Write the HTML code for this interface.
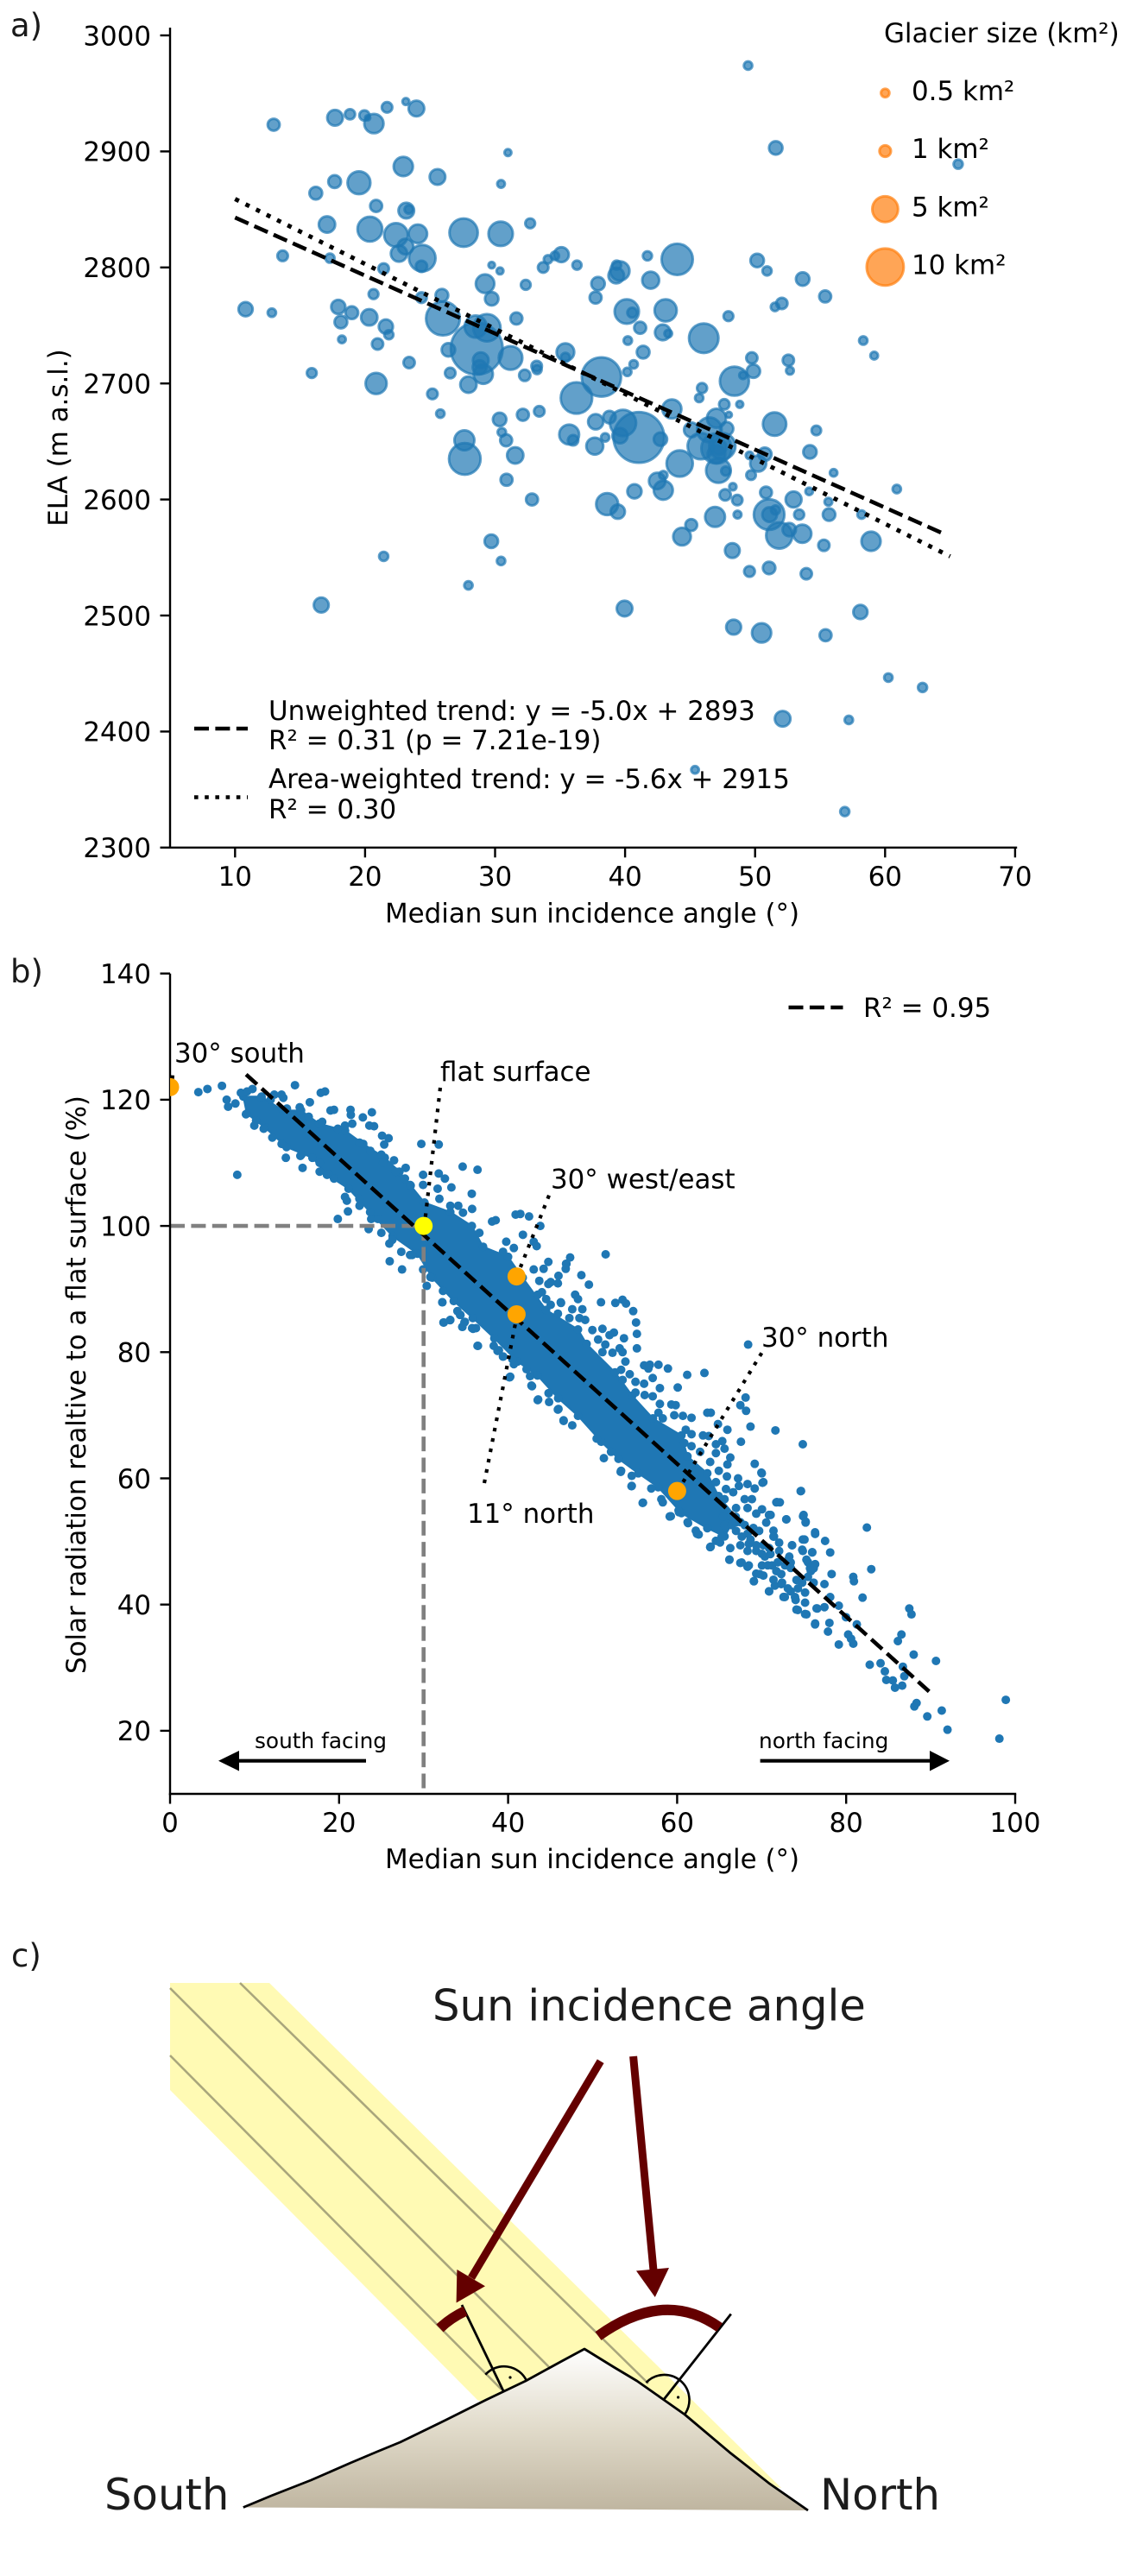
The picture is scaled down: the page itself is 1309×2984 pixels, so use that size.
<!DOCTYPE html>
<html lang="en">
<head>
<meta charset="utf-8">
<title>Glacier ELA and sun incidence angle</title>
<style>
html,body{margin:0;padding:0;background:#fff}
svg{display:block}
text{font-family:"DejaVu Sans","Liberation Sans",sans-serif;fill:#000}
.t30{font-size:30.9px}
.t24{font-size:24.8px}
.t36{font-size:37px;fill:#1a1a1a}
.t49{font-size:49.7px;fill:#1c1c1c}
</style>
</head>
<body>
<svg id="figure" xmlns="http://www.w3.org/2000/svg" width="1309" height="2984" viewBox="0 0 1309 2984">
<defs>
<clipPath id="clip-b"><rect x="197" y="1100" width="1000" height="978"/></clipPath>
<linearGradient id="mountain-gradient" x1="0" y1="0" x2="0" y2="1">
<stop offset="0" stop-color="#ffffff"/><stop offset="0.5" stop-color="#e0dac9"/><stop offset="1" stop-color="#bfb5a0"/>
</linearGradient>
</defs>

<text class="t36" x="12" y="42">a)</text>
<text class="t36" x="12" y="1138">b)</text>
<text class="t36" x="13" y="2278">c)</text>

<!-- Panel a -->
<g id="a-bubbles"></g>
<g id="a-trends"></g>
<g id="a-axes"></g>
<text class="t30" transform="translate(78,507) rotate(-90)" text-anchor="middle">ELA (m a.s.l.)</text>
<text class="t30" x="686" y="1068.5" text-anchor="middle">Median sun incidence angle (°)</text>

<g>
<text class="t30" x="1024" y="49">Glacier size (km²)</text>
<g id="a-size-legend"></g>
<text class="t30" x="1056" y="116">0.5 km²</text>
<text class="t30" x="1056" y="183">1 km²</text>
<text class="t30" x="1056" y="250.5">5 km²</text>
<text class="t30" x="1056" y="317.5">10 km²</text>
</g>

<g>
<line x1="225" y1="844" x2="287" y2="844" stroke="#000" stroke-width="4.6" stroke-dasharray="17 7.4"/>
<line x1="225" y1="923.5" x2="287" y2="923.5" stroke="#000" stroke-width="4.6" stroke-dasharray="4.6 7.6"/>
<text class="t30" x="311" y="834">Unweighted trend: y = -5.0x + 2893</text>
<text class="t30" x="311" y="868">R² = 0.31 (p = 7.21e-19)</text>
<text class="t30" x="311" y="913">Area-weighted trend: y = -5.6x + 2915</text>
<text class="t30" x="311" y="948">R² = 0.30</text>
</g>

<!-- Panel b -->
<g id="b-points" clip-path="url(#clip-b)"></g>
<g id="b-guides"></g>
<g id="b-axes"></g>
<text class="t30" transform="translate(99,1604) rotate(-90)" text-anchor="middle">Solar radiation realtive to a flat surface (%)</text>
<text class="t30" x="686" y="2164" text-anchor="middle">Median sun incidence angle (°)</text>

<line x1="913.5" y1="1167" x2="976.5" y2="1167" stroke="#000" stroke-width="4.6" stroke-dasharray="17 7.4"/>
<text class="t30" x="1000" y="1178">R² = 0.95</text>

<g stroke="#000" stroke-width="4.2" stroke-dasharray="4.2 8" fill="none">
<line x1="199" y1="1262" x2="200" y2="1244"/>
<line x1="510" y1="1260" x2="491.6" y2="1420"/>
<line x1="636" y1="1384.7" x2="598.5" y2="1479"/>
<line x1="561" y1="1718" x2="599" y2="1523"/>
<line x1="882.3" y1="1567.3" x2="785" y2="1727"/>
</g>
<g id="b-highlights" clip-path="url(#clip-b)"></g>

<text class="t30" x="202" y="1230.5">30° south</text>
<text class="t30" x="510" y="1252">flat surface</text>
<text class="t30" x="638" y="1376.5">30° west/east</text>
<text class="t30" x="882" y="1560">30° north</text>
<text class="t30" x="541" y="1764">11° north</text>

<g>
<text class="t24" x="295" y="2025">south facing</text>
<line x1="424" y1="2039.7" x2="275" y2="2039.7" stroke="#000" stroke-width="4.2"/>
<polygon points="253,2039.7 277,2028 277,2051.5" fill="#000"/>
</g>
<g>
<text class="t24" x="879" y="2025">north facing</text>
<line x1="880.6" y1="2039.7" x2="1079" y2="2039.7" stroke="#000" stroke-width="4.2"/>
<polygon points="1100,2039.7 1077,2028 1077,2051.5" fill="#000"/>
</g>

<!-- Panel c -->
<g>
<polygon points="197,2297 312,2297 905,2882 700,2850 553,2780 197,2421" fill="#fffab4"/>
<g stroke="#a9a67c" stroke-width="2.6" fill="none">
<line x1="278" y1="2297" x2="751" y2="2761"/>
<line x1="197" y1="2303" x2="636" y2="2742"/>
<line x1="197" y1="2381" x2="581" y2="2768"/>
</g>
<polygon points="281.8,2904.5 314.3,2891 360.2,2873 406,2853 436.8,2840 463.6,2829 517,2803 563,2780 609,2758 651,2735 677,2721 711,2742 737.8,2758 768.4,2779.5 793.3,2797 845,2840.6 890.9,2876.6 936,2908" fill="url(#mountain-gradient)"/>
<polyline points="281.8,2904.5 314.3,2891 360.2,2873 406,2853 436.8,2840 463.6,2829 517,2803 563,2780 609,2758 651,2735 677,2721 711,2742 737.8,2758 768.4,2779.5 793.3,2797 845,2840.6 890.9,2876.6 936,2908" fill="none" stroke="#000" stroke-width="2.8" stroke-linejoin="round"/>
<line x1="535" y1="2670" x2="583" y2="2769.5" stroke="#000" stroke-width="2.8"/>
<line x1="846.8" y1="2680.5" x2="769" y2="2779.5" stroke="#000" stroke-width="2.8"/>
<path d="M562.3 2750.7 A29 29 0 0 1 609.8 2757.4" fill="none" stroke="#000" stroke-width="2.6"/>
<path d="M748.5 2760 A29 29 0 0 1 793 2797" fill="none" stroke="#000" stroke-width="2.6"/>
<circle cx="591" cy="2754" r="1.6" fill="#000"/>
<circle cx="785.6" cy="2777" r="1.6" fill="#000"/>
<path d="M509.5 2697 Q522 2685 539 2677" fill="none" stroke="#640000" stroke-width="12"/>
<path d="M693 2706 Q769.8 2651 833.4 2696" fill="none" stroke="#640000" stroke-width="12"/>
<line x1="695.7" y1="2387.7" x2="546" y2="2638.6" stroke="#640000" stroke-width="9"/>
<polygon points="529.4,2629 562,2648.3 528.6,2667.5" fill="#640000"/>
<line x1="733.6" y1="2382" x2="757" y2="2630" stroke="#640000" stroke-width="9"/>
<polygon points="737,2630.5 775,2627 758.8,2661" fill="#640000"/>
<text class="t49" x="501" y="2340.5">Sun incidence angle</text>
<text class="t49" x="121" y="2907">South</text>
<text class="t49" x="950" y="2907">North</text>
</g>
</svg>

<script>
// ---------- Panel a data ----------
const aXTicks = [10, 20, 30, 40, 50, 60, 70];
const aYTicks = [2300, 2400, 2500, 2600, 2700, 2800, 2900, 3000];
const legendSizes = [0.5, 1, 5, 10];
const unweightedSlope = -5.0;
const unweightedIntercept = 2893;
const weightedSlope = -5.6;
const weightedIntercept = 2915;
const unweightedRange = [10, 64.7];
const weightedRange = [10, 65];

const glacierAngle = [
12.97,17.69,18.84,19.95,20.2,20.68,21.69,23.14,23.95,30.99,
22.94,25.57,30.46,17.66,19.53,16.21,20.85,23.17,23.36,17.07,
20.37,22.38,24.06,27.58,30.43,32.7,13.66,17.3,23.11,22.61,
24.4,24.34,29.74,30.38,21.43,29.23,32.36,20.65,29.74,24.34,
25.91,17.94,18.98,20.32,10.81,12.83,18.14,21.6,21.83,25.99,
18.22,20.96,28.51,29.37,31.64,33.7,34.07,34.6,35.1,28.59,
26.41,31.19,28.9,28.81,29.09,33.2,33.23,26.55,32.28,15.9,
20.85,23.39,27.95,25.18,25.79,30.35,32.14,33.4,30.52,30.85,
27.64,27.67,31.55,30.88,32.84,29.71,21.43,30.46,27.95,16.63,
49.46,51.59,65.62,36.3,44.01,41.72,39.35,39.6,39.32,41.97,
37.92,37.73,50.16,50.92,53.66,55.39,40.13,40.55,43.12,52.06,
51.53,41.16,42.9,43.32,47.95,46.05,40.21,41.39,58.32,59.16,40.66,
35.41,35.41,38.18,36.26,40.17,37.74,38.8,39.84,39.61,41.06,
42.72,35.7,36,37.67,38.47,43.6,44.2,45.1,45.82,46.48,
47.03,47.81,47.63,47.98,45.92,45.7,48.41,49.07,49.87,49.75,
52.56,52.68,48.82,51.5,54.71,54.22,56.04,54.16,47.03,47.48,
47.03,47.23,47.18,47.74,50.75,50.24,49.57,49.69,42.47,42.94,
42.94,40.72,38.62,39.44,47.7,48.29,48.63,46.92,48.65,50.84,
51.08,51.12,51.57,52.96,53.39,51.86,52.63,53.63,55.64,55.69,
58.19,55.29,58.92,45.09,44.38,48.25,49.57,51.08,53.94,39.96,
58.1,48.35,50.5,55.42,60.25,62.88,52.12,57.21,45.38,56.9,60.9
];
const glacierEla = [
2923,2929,2932,2931,2929,2924,2938,2943,2937,2899,
2887,2878,2872,2874,2873,2864,2853,2849,2850,2837,
2833,2828,2829,2830,2829,2838,2810,2808,2818,2812,
2808,2801,2802,2797,2799,2786,2785,2777,2773,2774,
2776,2766,2761,2757,2764,2761,2753,2749,2742,2756,
2738,2734,2749,2748,2756,2800,2807,2810,2811,2730,
2729,2722,2720,2714,2708,2715,2712,2709,2707,2709,
2700,2718,2699,2691,2674,2669,2673,2676,2658,2651,
2651,2635,2638,2617,2600,2564,2551,2547,2526,2509,
2974,2903,2889,2802,2807,2810,2802,2797,2793,2789,
2786,2774,2806,2797,2790,2775,2762,2761,2763,2769,
2766,2748,2744,2743,2758,2739,2737,2727,2737,2724,2716.5,
2727,2722.5,2705.6,2687.5,2710,2667,2671,2666,2655,2653.5,
2652,2656,2651,2646,2653.5,2678,2631,2660,2646,2660,
2670,2661,2682,2673,2696,2687.5,2702,2707,2710.6,2722,
2720,2711,2682,2665,2659.5,2641,2623,2607,2644,2646,
2639,2645,2625,2624.5,2639,2631,2638,2621,2616,2621,
2608,2607,2596,2589.5,2604,2611,2599.5,2585,2587,2606,
2587,2587,2591,2600,2587,2569,2574,2570.5,2598,2587,
2587,2560.5,2564,2578,2568,2556,2538,2541,2536,2506,
2503,2490,2485,2483,2446.5,2438,2411,2410,2367,2331,2609
];
const glacierArea = [
1.09,1.88,.77,.77,.1,2.83,.83,.29,1.88,.29,
2.83,1.88,.39,1.24,3.96,1.24,1.09,1.88,.49,2.05,
4.59,4.2,2.63,5.98,4.46,.71,.83,.6,1.88,2.05,
5.26,.96,.25,.29,.83,2.63,.71,.71,1.39,.83,
1.24,1.54,1.24,2.05,1.54,.49,1.24,1.54,.6,8.39,
.39,.96,3.72,5.55,1.09,.83,.49,.49,1.71,19.2,
1.39,4.2,1.88,1.46,2.83,.83,.6,.83,.96,.71,
3.37,.96,2.05,.83,.49,1.39,1.09,.83,.49,1.09,
3.04,7.37,2.05,1.09,1.09,1.39,.6,.49,.49,1.71,
.49,1.39,.6,.6,7.2,.6,.6,2.83,1.88,2.2,
1.39,1.09,1.39,.6,1.39,1.09,4.46,.71,3.72,.96,
.49,1.09,1.88,.39,.71,6.45,.49,1.24,.49,.39,.49,
2.39,.59,11.2,7.3,.48,1.79,1.19,5.17,1.79,18.3,
1.37,3.02,.81,2.21,.48,2.77,5.17,1.67,5.17,4.6,
2.77,1.37,.81,.2,.75,.48,6.27,.37,1.37,.96,
.96,.41,.3,4.12,.67,1.37,.37,.37,6.78,5.17,
2.39,1.67,4.6,.59,1.37,1.99,.37,.67,2.08,.48,
2.77,1.55,3.66,1.55,.96,.34,.81,3.02,.41,1.06,
6.93,1.67,.59,1.95,.75,5.17,1.37,2.53,.41,1.19,
.48,.96,2.82,1.06,2.39,1.67,.87,1.19,.96,1.87,
1.54,1.71,2.83,1.09,.49,.6,1.88,.49,.39,.6,.49
];

// ---------- Panel b data ----------
const bXTicks = [0, 20, 40, 60, 80, 100];
const bYTicks = [20, 40, 60, 80, 100, 120, 140];
const fitAngle = [9, 90];
const fitValue = [124, 26];
const flatAngle = 30;
const flatValue = 100;
const slopeAngle = [0, 41, 41, 60];
const slopeValue = [122, 92, 86, 58];

const coreUpperAngle = [8.67,10.82,13.37,15.5,17.65,20.71,22.86,25.41,27.14,28.47,30.1,33.16,35.71,37.04,40,41.73,44.49,48.27,49.29,52.65,54.69,57.14,60.51,61.22,63.57,64.9,66.94];
const coreUpperValue = [120.5,120.5,118.3,118.3,116.2,115.1,113,110.8,108.6,106.4,103.7,102.2,100,96.7,95.1,91.8,86.7,83.6,81.3,76.8,73.1,69.5,66.8,63.5,60.8,57.2,53.9];
const coreLowerAngle = [9.08,11.22,13.78,16.84,18.57,21.12,23.67,26.33,29.29,31.02,33.57,35.82,38.37,41.12,43.47,45.92,48.27,51.02,53.06,55.41,57.76,60.51,63.57,65.61];
const coreLowerValue = [117.8,115.6,112.5,110.8,108.1,105.9,102.2,98.4,95.6,91.8,88.1,85.4,82.2,78.5,76.3,72.7,69.9,65.8,63.1,60.8,58.6,54.5,52.1,50.8];

const glacierSamples = [
[3.35,121.2],[4.42,121.7],[6.14,122.2],[6.7,120],[6.87,118.9],[7.73,119.4],[7.95,108.1],[8.38,121.1],[9.11,121.3],[9.75,121.7],
[8.98,117.7],[10.18,116.7],[11.08,115.4],[12.33,120.8],[13.19,120.8],[13.4,120.3],[14.78,122.3],[16.54,119.6],[17.83,121.1],[18.34,121.3],
[18.99,118.3],[19.4,118.4],[21.35,118.4],[21.39,117.6],[22.81,117.2],[23.88,118],[23.58,115.9],[24.14,115.8],[20.7,115.9],[21.56,116.2],
[25.09,114.3],[25.86,113.9],[25.34,112.9],[29.73,113],[31.79,112.9],[25,111.3],[26.5,110.4],[27.88,109.2],[27.79,107.5],[34.62,109.4],
[36.38,108.9],[29.94,108.1],[31.79,108.3],[32.52,107.5],[33.29,106.1],[29.94,106.5],[31.66,105.9],[35.7,105.1],[31.87,104.3],[33.16,103.2],
[34.1,103.2],[34.66,102.1],[35.74,102.7],[38.1,100.7],[38.53,100.9],[40.89,101.8],[41.45,101.9],[42.48,101.5],[43.81,100],[41.75,98.6],
[43.03,97.5],[43.38,96.8],[36.6,98.9],[39.78,97.5],[40.68,96.5],[39.4,95.9],[44.76,94.3],[44.2,93.2],[43.03,93.1],[46.9,94],
[45.96,92.1],[44.76,90.8],[43.69,91.3],[46.26,87.8],[13.7,110.8],[15.68,109.2],[15.42,111.1],[17.7,108.6],[18.77,108.2],[20.7,104.6],
[20.92,104],[21.05,102.3],[19.85,101.1],[22.42,103.2],[23.5,99.5],[23.8,101.1],[25,98.9],[25.95,97.2],[25.99,94.4],[27.45,93.1],
[27.36,95.9],[28.65,95.4],[29.94,93.1],[30.37,90.5],[32.22,87.9],[32.39,84.7],[33.16,85.1],[34.36,85.9],[34.88,84.8],[34.58,84],
[35.74,83.8],[36.38,81],[38.75,80.2],[39.39,79.3],[40.25,76.1],[40.68,78.1],[42.18,77.3],[42.83,74.6],[43.56,72.5],[44.85,72.1],
[45.96,71],[46.56,69.2],[10.82,120.3],[11.9,120],[13.83,118.6],[15.34,118.8],[16.41,117.3],[18,116.5],[19.85,115.4],[22.42,113.2],
[23.7,111.9],[25.2,110],[26.7,108.6],[28.4,106.5],[9.97,115.9],[12.1,114],[13.2,113],[15.55,111.3],[17.7,110],[19.4,107.5],
[22.4,104.3],[24.6,101.1],[26.3,97.8],[28.4,95.4],[30.8,91.9],[32.3,89.7],[34,86.5],[36.2,83.8],[38.3,81],[40.5,78.9],
[42.6,76.2],[44.8,73.5],[32.21,87.9],[32.35,84.7],[33.13,85.06],[34.32,85.9],[34.83,84.7],[34.59,84],[35.85,83.7],[36.43,81],
[38.91,80.3],[39.42,79.3],[40.17,76],[42.76,74.7],[43.5,72.4],[44.8,73.5],[45.89,70.9],[46.57,69.1],[47.59,68.4],[50.48,66.3],
[51.33,63.2],[52.18,64.2],[53.37,61.2],[54.63,58.8],[54.63,60.4],[56.94,58.4],[55.92,56.1],[58.13,56.7],[58.3,56.2],[59.25,54],
[60.17,54.9],[61.29,52.9],[62.21,51.7],[62.55,51.1],[63.91,49.1],[64.59,50.1],[66.19,47.1],[67.48,46.6],[68.33,46],[69.08,43.7],
[69.36,44.9],[70.2,44.6],[70.89,42.1],[71.57,43],[72.59,41.2],[74.12,39.2],[75.14,38.5],[76.33,37],[76.5,39.4],[75.14,40.3],
[73.44,42.1],[45.04,91.1],[45.89,90.9],[49.56,90.7],[43.5,89.1],[44,89.5],[44.5,88.4],[45.04,87.5],[46.23,87.9],[47.93,89.1],
[48.27,88.4],[48.78,86.8],[47.59,86.8],[47.25,85.4],[45.89,86.1],[48.44,85.4],[49.12,85.1],[50.99,87.9],[52.69,87.8],[53.54,88.3],
[53.95,87.7],[54.8,86.5],[55.14,84.7],[55.24,82.9],[55.24,80.6],[53.71,82.2],[51.16,83.7],[49.97,83.5],[52.52,83.1],[52,82.7],
[50.65,82],[51.5,81.2],[53.2,80.6],[52.35,79.9],[53.54,80],[53.88,78.5],[51.16,80],[53.37,77.2],[54.39,76.5],[53.54,75.6],
[56.09,77.9],[56.77,78],[56.6,77.4],[57.79,78],[58.91,77.4],[61.19,76.4],[63.23,76.7],[57.11,75.9],[56.09,75],[55.07,75.3],
[57.96,74.3],[60.07,74.4],[55.07,73.6],[56.16,73.2],[57.11,73],[57.96,71.8],[59.32,71.7],[59.83,71.6],[57.79,70.4],[58.3,69.5],
[59.66,70],[60.68,69.9],[61.7,69.6],[63.57,70.4],[63.98,70.4],[64.83,68.6],[65.95,67.7],[61.02,67.7],[61.7,67],[63.06,66.8],
[63.74,66.7],[67.48,71.6],[68.1,72.8],[68.16,70.7],[68.4,81.2],[68.68,68.2],[71.63,67.6],[67.55,65.8],[74.87,65.4],[64.59,65.4],
[65.34,65.9],[65.61,64.7],[64.59,64],[66.29,63.3],[65.95,62.2],[64.93,61.2],[63.91,62.6],[60.85,65.6],[61.7,65.1],[62.72,64.2],
[69.18,62.3],[69.97,60.9],[70.1,59.3],[65.89,60.3],[67.21,60],[67.31,58.8],[68.33,59.1],[69.18,58.4],[64.59,59.4],[65.78,58.3],
[66.63,57.8],[65.61,56.7],[67.99,56.7],[68.85,56.7],[68.33,55.3],[66.97,55.3],[70.04,55.1],[69.36,54.4],[71.06,54.2],[70.54,53],
[71.74,56.2],[72.15,56.2],[74.66,58],[72.93,53.5],[74.9,54],[75.2,53],[76.33,51.2],[75.07,50.3],[73.61,49.4],[74.8,48.7],
[75.99,48.3],[75.48,46.7],[76.33,46.4],[75.82,45.3],[71.4,51.7],[72.07,49.8],[71.23,46.2],[71.91,46.7],[70.38,47.6],[69.36,48.5],
[70.04,46.2],[75.14,41.9],[73.27,47.6],[73.44,45.8],[74.12,43.9],[51.54,95.5],[47.34,95],[46.86,94],[46.82,93.2],[48.67,92.2],
[98.89,24.9],[98.13,18.75],[90.63,31.07],[87.99,32.07],[91.31,23.2],[89.6,22.27],[91.99,20.17],[88.33,24.4],[88.07,23.86],[87.47,39.37],
[87.73,38.45],[86.54,35.26],[86.12,34.21],[82.79,30.47],[84.07,30.7],[84.58,29.42],[84.75,28.06],[85.52,27.97],[85.78,26.83],[86.63,27.15],
[86.88,28.65],[86.71,30.15],[82.45,52.2],[82.97,45.61],[80.84,44.38],[80.92,43.7],[81.94,41.1],[78.11,48.26],[77.51,50.08],[76.32,51.45],
[74.96,54.2],[75.21,53.14],[72.91,53.5],[74.62,57.97],[71.81,56.24],[70.87,54.2],[70.02,60.8],[70.2,59.4],[78.28,44.84],[76.15,43.47],
[77.43,43.24],[78.11,41.19],[79.13,39.82],[77.43,39.59],[76.58,39.37],[75.3,38.45],[74.28,39.14],[76.32,36.86],[77.85,35.72],[78.02,37.09],
[79.13,33.67],[80.84,33.8],[80.24,35.26],[80.58,34.58],[79.98,38],[81.26,36.86],[75.72,45.75],[74.87,50.31],[75.98,48.26],[73.59,49.4],
[74.87,48.49],[73.17,47.12],[75.3,47.12],[69.08,43.7],[70.87,42.1],[72.32,43.24],[72.74,41.19],[74.02,40.73],[72.32,44.84],[69.76,44.84],
[68.48,46.2],[66.18,47.12],[67.63,46.66],[63.97,49.17],[65.08,49.85],[62.35,51.22],[61.24,53.05],[60.22,54.64],[59.12,53.96],[55.96,56.15],
[54.6,58.75],[53.32,61.03],[71.04,48],[70.19,49.4],[68.48,49.63],[71.46,50.77],
[66.97,51.68],[67.65,50.77],[66.29,48.95],[67.48,49.4],[68.68,50.31],[69.36,49.4],[68.33,48.49],[70.04,48.03],[70.88,48.95],[71.4,50.77],
[72.07,48.49],[70.72,46.21],[71.74,45.3],[72.76,46.21],[73.44,46.67],[71.4,43.93],[72.41,43.47],[73.1,42.56],[74.29,42.56],[73.95,41.19],
[74.8,43.47],[75.48,44.39],[76.16,45.75],[65.61,52.59],[66.46,52.59],[65.27,50.77],[66.97,53.05],[68,52.59],[69.02,52.14],[69.7,51.68],
[68.33,51.23],[65.44,53.96],[66.29,53.96],[67.48,53.05]
];

// ---------- Scales ----------
const SVGNS = 'http://www.w3.org/2000/svg';
function xA(v) { return 197 + (v - 5) * 15.06; }
function yA(v) { return 41 + (3000 - v) * 1.344; }
function xB(v) { return 197 + v * 9.79; }
function yB(v) { return 1127.7 + (140 - v) * 7.31; }
function bubbleRadius(area) { return Math.sqrt(15 + 51 * area) - 1.5; }
function make(tag, attrs) {
  const el = document.createElementNS(SVGNS, tag);
  Object.keys(attrs).forEach(function (k) { el.setAttribute(k, attrs[k]); });
  return el;
}

// ---------- Panel a marks ----------
const aBubbles = document.getElementById('a-bubbles');
glacierAngle.forEach(function (angle, i) {
  const el = make('circle', {cx: xA(angle), cy: yA(glacierEla[i]), r: bubbleRadius(glacierArea[i]), fill: '#1f77b4', 'fill-opacity': 0.7, stroke: '#1f77b4', 'stroke-opacity': 0.7, 'stroke-width': 3});
  
  
  aBubbles.appendChild(el);
});

const aTrends = document.getElementById('a-trends');
const unweightedLine = make('line', {x1: xA(unweightedRange[0]), y1: yA(unweightedSlope * unweightedRange[0] + unweightedIntercept), x2: xA(unweightedRange[1]), y2: yA(unweightedSlope * unweightedRange[1] + unweightedIntercept), stroke: '#000', 'stroke-width': 4.6, 'stroke-dasharray': '17 7.4'});


aTrends.appendChild(unweightedLine);
const weightedLine = make('line', {x1: xA(weightedRange[0]), y1: yA(weightedSlope * weightedRange[0] + weightedIntercept), x2: xA(weightedRange[1]), y2: yA(weightedSlope * weightedRange[1] + weightedIntercept), stroke: '#000', 'stroke-width': 5, 'stroke-dasharray': '5 8.6'});


aTrends.appendChild(weightedLine);

const aLegend = document.getElementById('a-size-legend');
const legendY = [107.7, 175, 242.3, 309.3];
legendSizes.forEach(function (size, i) {
  const el = make('circle', {cx: 1025.4, cy: legendY[i], r: bubbleRadius(size), fill: '#ff7f0e', 'fill-opacity': 0.7, stroke: '#ff7f0e', 'stroke-opacity': 0.7, 'stroke-width': 3});
  
  
  aLegend.appendChild(el);
});

function drawAxes(group, xTicks, yTicks, xf, yf, x0, x1, yTop, yBottom, xLabelBaseline) {
  const ySpine = make('line', {x1: x0, y1: yTop, x2: x0, y2: yBottom + 1.2, stroke: '#000', 'stroke-width': 2.4});
  
  
  group.appendChild(ySpine);
  const xSpine = make('line', {x1: x0 - 1.2, y1: yBottom, x2: x1 + 1.2, y2: yBottom, stroke: '#000', 'stroke-width': 2.4});
  
  
  group.appendChild(xSpine);
  xTicks.forEach(function (t) {
    const tick = make('line', {x1: xf(t), y1: yBottom, x2: xf(t), y2: yBottom + 11.5, stroke: '#000', 'stroke-width': 2.4});
    
    
    group.appendChild(tick);
    const label = make('text', {x: xf(t), y: xLabelBaseline, 'text-anchor': 'middle', 'class': 't30'});
    
    
    label.textContent = String(t);
    group.appendChild(label);
  });
  yTicks.forEach(function (t) {
    const tick = make('line', {x1: x0 - 11.5, y1: yf(t), x2: x0, y2: yf(t), stroke: '#000', 'stroke-width': 2.4});
    
    
    group.appendChild(tick);
    const label = make('text', {x: 175, y: yf(t) + 11.3, 'text-anchor': 'end', 'class': 't30'});
    
    
    label.textContent = String(t);
    group.appendChild(label);
  });
}
drawAxes(document.getElementById('a-axes'), aXTicks, aYTicks, xA, yA, 197, 1177, 32, yA(2300), 1026);

// ---------- Panel b marks ----------
const bPoints = document.getElementById('b-points');
let corePath = '';
coreUpperAngle.forEach(function (a, i) {
  corePath += (i === 0 ? 'M' : 'L') + xB(a) + ' ' + yB(coreUpperValue[i]);
});
for (let i = coreLowerAngle.length - 1; i >= 0; i--) {
  corePath += 'L' + xB(coreLowerAngle[i]) + ' ' + yB(coreLowerValue[i]);
}
const coreShape = make('path', {d: corePath + 'Z', fill: '#1f77b4', stroke: '#1f77b4', 'stroke-width': 2, 'stroke-linejoin': 'round'});


bPoints.appendChild(coreShape);
coreUpperAngle.forEach(function (a, i) {
  const dot = make('circle', {cx: xB(a), cy: yB(coreUpperValue[i]), r: 5, fill: '#1f77b4'});
  
  
  bPoints.appendChild(dot);
});
coreLowerAngle.forEach(function (a, i) {
  const dot = make('circle', {cx: xB(a), cy: yB(coreLowerValue[i]), r: 5, fill: '#1f77b4'});
  
  
  bPoints.appendChild(dot);
});
glacierSamples.forEach(function (p) {
  const dot = make('circle', {cx: xB(p[0]), cy: yB(p[1]), r: 5, fill: '#1f77b4'});
  
  
  bPoints.appendChild(dot);
});

const bGuides = document.getElementById('b-guides');
const guideH = make('line', {x1: xB(0), y1: yB(flatValue), x2: xB(flatAngle), y2: yB(flatValue), stroke: '#808080', 'stroke-width': 4.6, 'stroke-dasharray': '17 7.4'});


bGuides.appendChild(guideH);
const guideV = make('line', {x1: xB(flatAngle), y1: yB(flatValue), x2: xB(flatAngle), y2: 2078, stroke: '#808080', 'stroke-width': 4.6, 'stroke-dasharray': '17 7.4'});


bGuides.appendChild(guideV);
const fitLine = make('line', {x1: xB(fitAngle[0]), y1: yB(fitValue[0]), x2: xB(fitAngle[1]), y2: yB(fitValue[1]), stroke: '#000', 'stroke-width': 4.6, 'stroke-dasharray': '17 7.4'});


bGuides.appendChild(fitLine);

drawAxes(document.getElementById('b-axes'), bXTicks, bYTicks, xB, yB, 197, xB(100), yB(140), 2078, 2122);

const bHighlights = document.getElementById('b-highlights');
slopeAngle.forEach(function (a, i) {
  const marker = make('circle', {cx: xB(a), cy: yB(slopeValue[i]), r: 10.5, fill: '#ffa500'});
  
  
  bHighlights.appendChild(marker);
});
const flatMarker = make('circle', {cx: xB(flatAngle), cy: yB(flatValue), r: 10.5, fill: '#ffff00'});


bHighlights.appendChild(flatMarker);
</script>
</body>
</html>
